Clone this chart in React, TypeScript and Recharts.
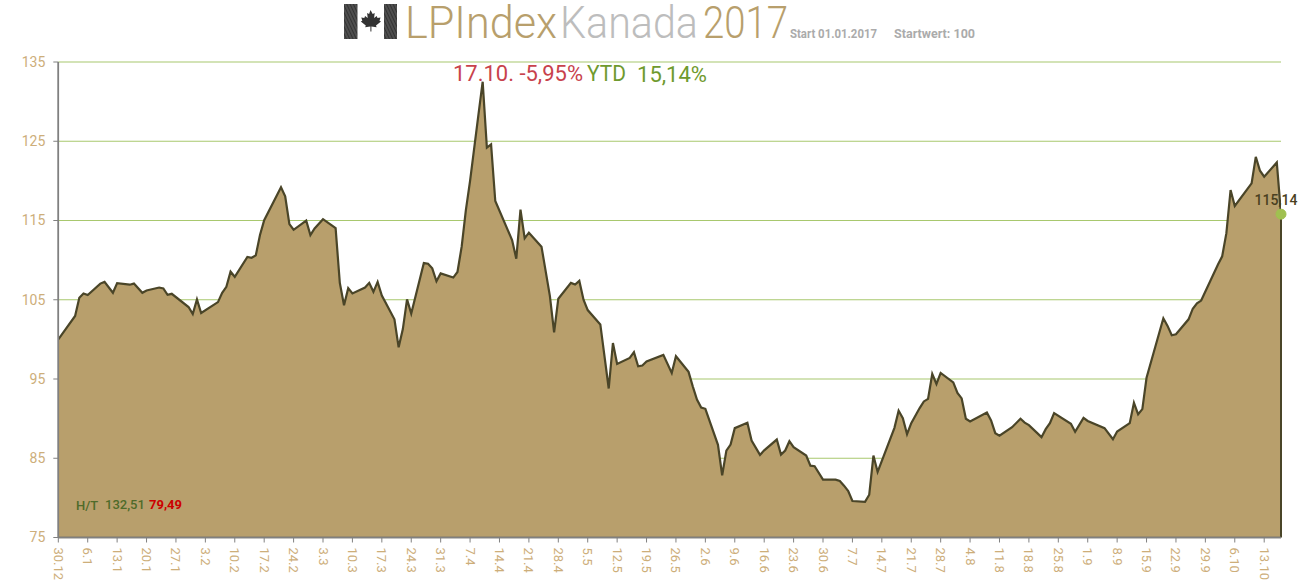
import React from 'react';
import { AreaChart, Area, XAxis, YAxis, CartesianGrid, ReferenceDot, ReferenceLine } from 'recharts';

// Calendar days since 30.12.2016, and the index value on that day
const dayOffsets = [
  0, 4, 5, 6, 7, 10, 11, 13, 14, 17, 18, 20, 21, 24, 25, 26, 27, 31, 32, 33, 34, 38, 39, 40, 41, 42, 45, 46, 47, 48, 49,
  53, 54, 55, 56, 59, 60, 61, 63, 66, 67, 68, 69, 70, 73, 74, 75, 76, 77, 80, 81, 82, 83, 84, 87, 88, 89, 90, 91, 94, 95,
  96, 97, 98, 99, 100, 101, 102, 103, 104, 108, 109, 110, 111, 112, 115, 117, 118, 119, 122, 123, 124, 125, 126, 129,
  131, 132, 133, 136, 137, 138, 139, 140, 144, 146, 147, 150, 151, 152, 153, 154, 157, 158, 159, 160, 161, 164, 165,
  167, 168, 171, 172, 173, 174, 175, 178, 179, 180, 182, 185, 186, 187, 188, 189, 192, 193, 194, 195, 199, 200, 201,
  202, 203, 205, 206, 207, 208, 209, 210, 213, 214, 215, 216, 217, 221, 222, 223, 224, 227, 229, 230, 231, 234, 235,
  236, 237, 241, 242, 244, 245, 249, 251, 252, 255, 256, 257, 258, 259, 263, 264, 265, 266, 269, 270, 271, 272, 276,
  277, 278, 279, 280, 284, 285, 286, 287, 290, 291,
];
const indexValues = [
  100, 102.96, 105.25, 105.8, 105.6, 107.04, 107.25, 105.88, 107.1, 106.9, 107.04, 105.88, 106.17, 106.54, 106.42,
  105.63, 105.75, 104.08, 103.2, 105.04, 103.33, 104.7, 105.88, 106.63, 108.54, 107.9, 110.4, 110.3, 110.6, 113.17,
  115.04, 119.2, 118.04, 114.54, 113.83, 115, 113.17, 114, 115.17, 114.04, 107.13, 104.3, 106.46, 105.8, 106.54, 107.13,
  106, 107.25, 105.54, 102.54, 99, 101.3, 105.04, 103.25, 109.63, 109.54, 108.96, 107.33, 108.33, 107.8, 108.5, 111.7,
  116.3, 120, 124.2, 128.4, 132.51, 124.2, 124.6, 117.46, 112.54, 110.17, 116.38, 112.75, 113.46, 111.7, 105.46, 100.88,
  105.13, 107.13, 106.92, 107.38, 105, 103.7, 101.88, 93.8, 99.54, 96.9, 97.66, 98.38, 96.6, 96.7, 97.2, 98.04, 95.76,
  97.87, 95.9, 94.07, 92.4, 91.4, 91.24, 86.7, 82.85, 85.97, 86.73, 88.8, 89.47, 87.24, 85.42, 86, 87.36, 85.46, 85.97,
  87.15, 86.4, 85.34, 84.07, 84, 82.3, 82.3, 82.13, 81.54, 80.86, 79.6, 79.49, 80.4, 85.34, 83.27, 88.84, 91, 90.06,
  88.04, 89.43, 91.33, 92.17, 92.5, 95.63, 94.37, 95.76, 94.58, 93.23, 92.55, 89.98, 89.64, 90.78, 89.77, 88.16, 87.86,
  88.92, 89.98, 89.5, 89.18, 87.66, 88.67, 89.43, 90.7, 89.35, 88.33, 90.1, 89.7, 88.8, 87.4, 88.38, 89.43, 92, 90.55,
  91.2, 95.15, 102.66, 101.7, 100.52, 100.65, 102.53, 103.87, 104.54, 104.9, 109.44, 110.48, 113.4, 118.85, 116.84,
  119.69, 123.03, 121.28, 120.52, 122.32, 115.8,
];
const tickLabels = [
  '30.12', '6.1', '13.1', '20.1', '27.1', '3.2', '10.2', '17.2', '24.2', '3.3', '10.3', '17.3', '24.3', '31.3', '7.4',
  '14.4', '21.4', '28.4', '5.5', '12.5', '19.5', '26.5', '2.6', '9.6', '16.6', '23.6', '30.6', '7.7', '14.7', '21.7',
  '28.7', '4.8', '11.8', '18.8', '25.8', '1.9', '8.9', '15.9', '22.9', '29.9', '6.10', '13.10',
];
const tickDays = tickLabels.map((_, i) => i * 7);
const yTicks = [75, 85, 95, 105, 115, 125, 135];
const lastDay = 291;
const lastPlotted = 115.8;

const chartData = dayOffsets.map((day, i) => ({ day, value: indexValues[i] }));

const FONT = 'Roboto, sans-serif';
const NARROW = '"Liberation Sans Narrow", Roboto, sans-serif';
const AXIS_TEXT = '#CDAE7A';
const TAN = '#B89F6C';
const AXIS = '#808080';

const XTick = (props: any) => {
  const { x, y, payload } = props;
  const label = tickLabels[Math.round(payload.value / 7)];
  return (
    <text
      x={x}
      y={y + 3}
      transform={`rotate(90 ${x} ${y + 3})`}
      fill={AXIS_TEXT}
      fontFamily={FONT}
      fontSize={13}
      textAnchor="start"
      dominantBaseline="central"
    >
      {label}
    </text>
  );
};

const Flag = () => (
  <g>
    <defs>
      <pattern id="hatch" width="3" height="3" patternUnits="userSpaceOnUse" patternTransform="rotate(65)">
        <rect width="3" height="3" fill="#333" />
        <line x1="0" y1="1" x2="3" y2="1" stroke="#707070" strokeWidth="0.9" />
      </pattern>
    </defs>
    <rect x="344" y="4" width="13.5" height="35" fill="url(#hatch)" />
    <rect x="384" y="4" width="13" height="35" fill="url(#hatch)" />
    <path
      d="M370.5 10 l2.2 4 2-1 -0.6 5 2.6-2 0.8 2 3-0.5 -1 3.2 1.5 0.8 -5 4 0.6 1.8 -5.2-0.8 v5 h-1 v-5 l-5.2 0.8 0.6-1.8 -5-4 1.5-0.8 -1-3.2 3 0.5 0.8-2 2.6 2 -0.6-5 2 1 z"
      fill="#333"
    />
  </g>
);

const Overlay = () => (
  <svg width={1300} height={588} style={{ position: 'absolute', left: 0, top: 0, pointerEvents: 'none' }}>
    <Flag />
    <g fontFamily={FONT} fontSize={44} fontWeight={300}>
      <text x={405} y={38} fill={TAN} textLength={152} lengthAdjust="spacingAndGlyphs">LPIndex</text>
      <text x={560} y={38} fill="#BDBDBD" textLength={138} lengthAdjust="spacingAndGlyphs">Kanada</text>
      <text x={703} y={38} fill={TAN} textLength={85} lengthAdjust="spacingAndGlyphs">2017</text>
    </g>
    <g fontFamily={NARROW} fontSize={12} fontWeight={700} fill="#ABABAB">
      <text x={790} y={38} textLength={87} lengthAdjust="spacingAndGlyphs">Start 01.01.2017</text>
      <text x={894} y={38} textLength={81} lengthAdjust="spacingAndGlyphs">Startwert: 100</text>
    </g>
    <g fontFamily={NARROW} fontSize={22}>
      <text x={453} y={81} fill="#C8424C" textLength={130} lengthAdjust="spacingAndGlyphs">17.10. -5,95%</text>
      <text x={587} y={81} fill="#6F9A2E" textLength={39} lengthAdjust="spacingAndGlyphs">YTD</text>
      <text x={637} y={82} fill="#6F9A2E" textLength={70} lengthAdjust="spacingAndGlyphs">15,14%</text>
    </g>
    <g fontFamily={FONT} fontSize={13} fontWeight={500}>
      <text x={76} y={510} fill="#4F6B2A">H/T</text>
      <text x={105} y={509} fill="#4F6B2A">132,51</text>
      <text x={149} y={509} fill="#CC0000" fontWeight={700}>79,49</text>
    </g>
  </svg>
);

export default function App() {
  return (
    <div style={{ position: 'absolute', left: 0, top: 0, width: 1300, height: 588, overflow: 'hidden', background: '#fff' }}>
      <AreaChart
        width={1300}
        height={588}
        data={chartData}
        margin={{ top: 62, right: 19, bottom: 0, left: 0 }}
      >
        <CartesianGrid horizontal vertical={false} stroke="#A8C86E" strokeWidth={1.2} />
        <XAxis
          dataKey="day"
          type="number"
          domain={[0, lastDay]}
          ticks={tickDays}
          interval={0}
          height={50.5}
          tick={<XTick />}
          tickLine={{ stroke: AXIS }}
          axisLine={{ stroke: AXIS, strokeWidth: 1.5 }}
          tickSize={5}
          allowDataOverflow
        />
        <YAxis
          domain={[75, 135]}
          ticks={yTicks}
          width={58.3}
          interval={0}
          tick={{ fill: AXIS_TEXT, fontFamily: FONT, fontSize: 14 }}
          tickLine={{ stroke: AXIS }}
          axisLine={{ stroke: AXIS, strokeWidth: 1.5 }}
          tickSize={5}
          tickMargin={8}
        />
        <Area
          type="linear"
          dataKey="value"
          stroke="#4A4528"
          strokeWidth={2.2}
          fill={TAN}
          fillOpacity={1}
          dot={false}
          activeDot={false}
          isAnimationActive={false}
        />
        <ReferenceLine
          segment={[{ x: lastDay, y: 75 }, { x: lastDay, y: lastPlotted }]}
          stroke="#4A4528"
          strokeWidth={2}
        />
        <ReferenceLine
          segment={[{ x: 0, y: 75 }, { x: 0, y: 135 }]}
          stroke={AXIS}
          strokeWidth={1.5}
        />
        <ReferenceLine
          segment={[{ x: 0, y: 75 }, { x: lastDay, y: 75 }]}
          stroke="#6E6A58"
          strokeWidth={1.5}
        />
        <ReferenceDot
          x={lastDay}
          y={lastPlotted}
          r={5}
          fill="#A0C050"
          stroke="#A0C050"
          ifOverflow="visible"
          label={{
            value: '115,14',
            position: 'top',
            dx: -5,
            dy: 1,
            fill: '#4A3F20',
            fontFamily: FONT,
            fontSize: 14,
            fontWeight: 500,
          }}
        />
      </AreaChart>
      <Overlay />
    </div>
  );
}
